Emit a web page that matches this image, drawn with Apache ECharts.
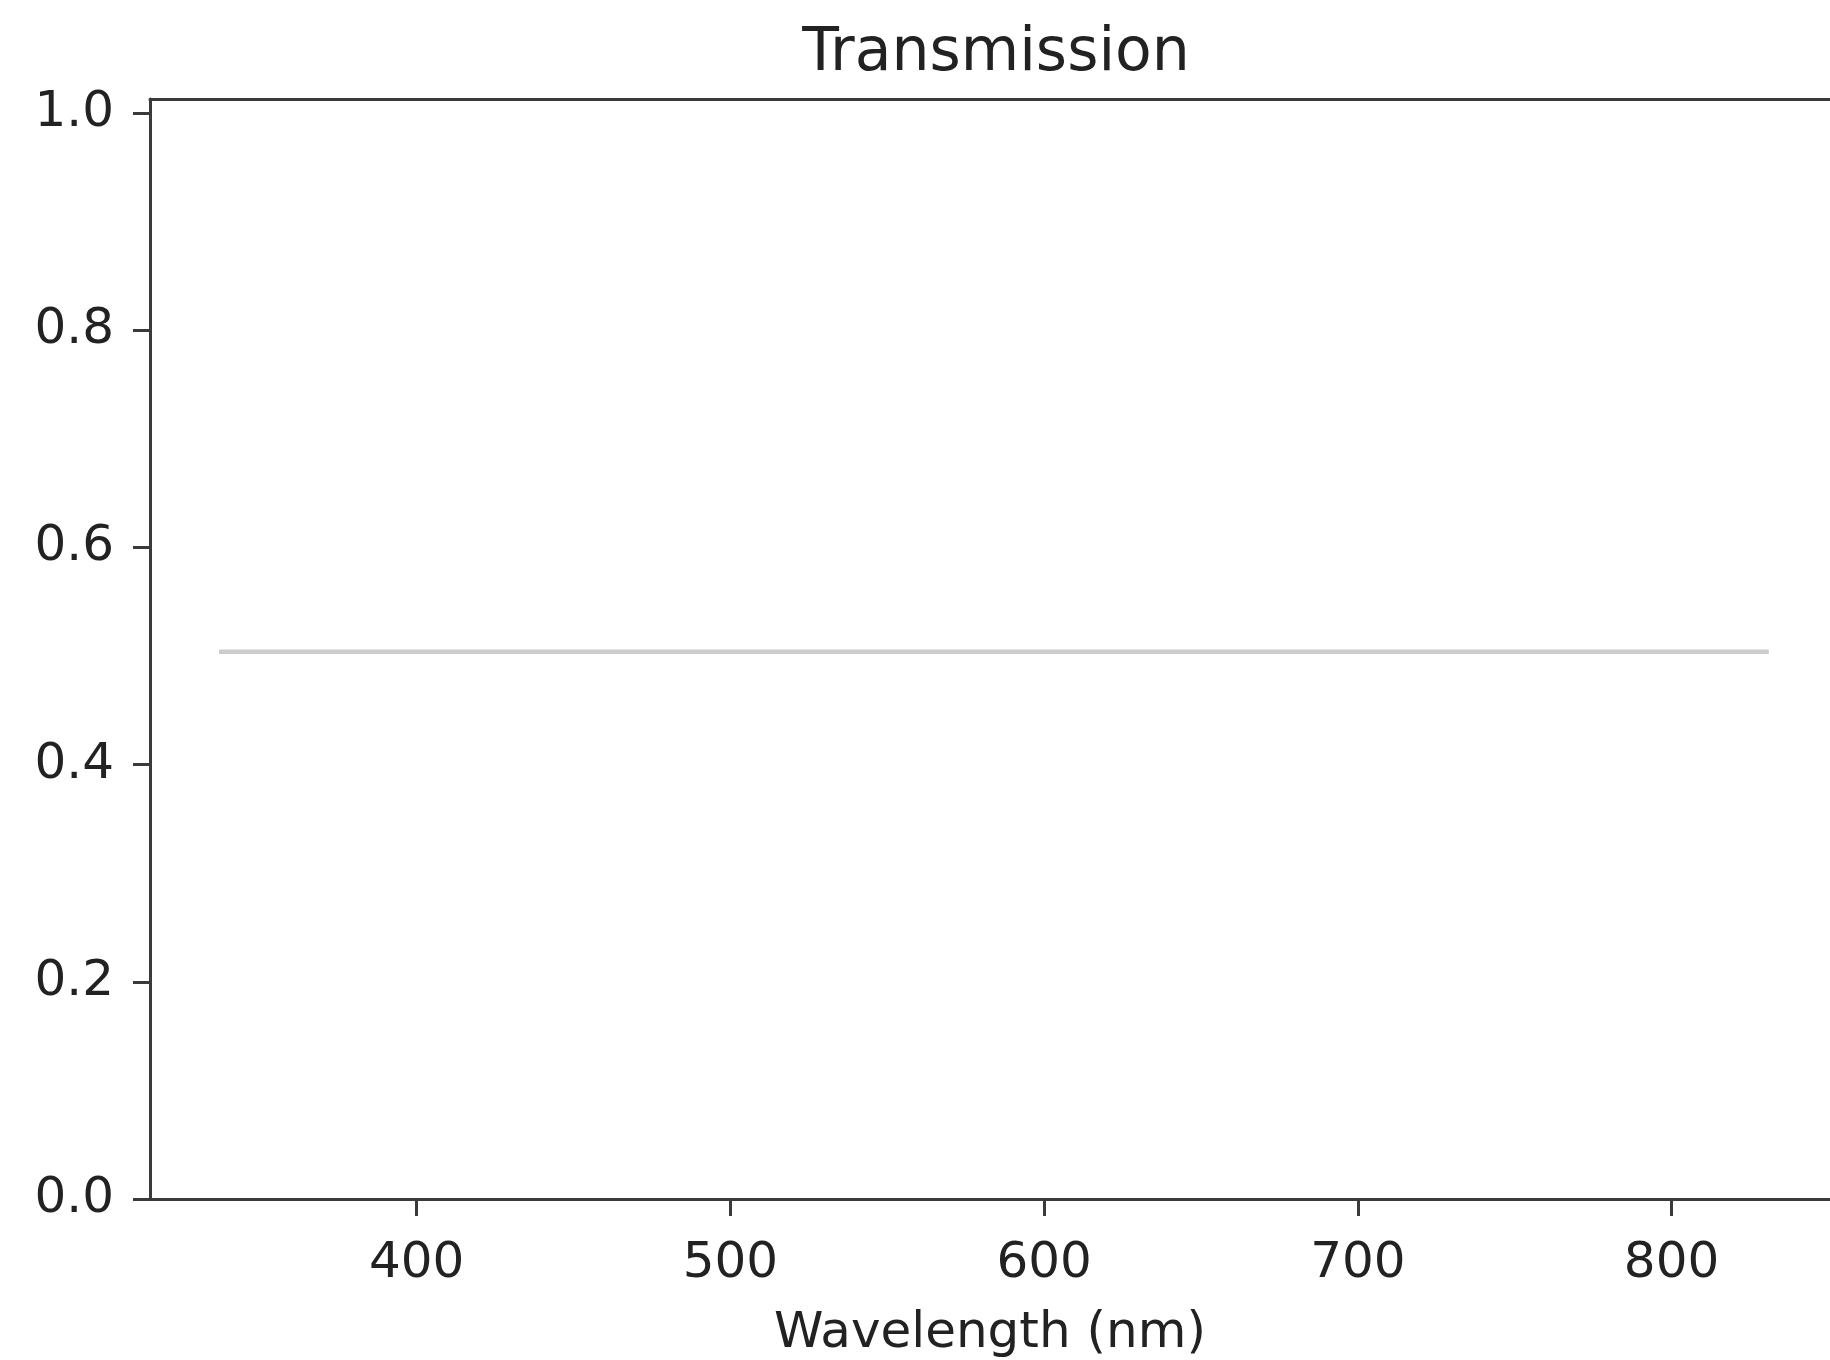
<!DOCTYPE html>
<html>
<head>
<meta charset="utf-8">
<script src="https://cdn.jsdelivr.net/npm/echarts@6/dist/echarts.min.js"></script>
<style>
html,body{margin:0;padding:0;background:#fff;}
#chart{width:1830px;height:1360px;}
</style>
</head>
<body>
<div id="chart"></div>
<script>
// Data
var wavelengths = [337, 831];
var transmission = [0.504, 0.504];
var xTicks = [400, 500, 600, 700, 800];
var yTicks = [0.0, 0.2, 0.4, 0.6, 0.8, 1.0];
var titleText = 'Transmission';
var xName = 'Wavelength (nm)';

var seriesData = wavelengths.map(function (w, i) { return [w, transmission[i]]; });

var chart = echarts.init(document.getElementById('chart'), null, {renderer: 'canvas'});
var axisColor = '#3a3a3a';
var font = 'DejaVu Sans';
chart.setOption({
  animation: false,
  backgroundColor: '#ffffff',
  title: {
    text: titleText,
    left: 991,
    top: 19,
    textAlign: 'center',
    textStyle: {fontFamily: font, fontSize: 60, fontWeight: 'normal', color: '#222'}
  },
  grid: {
    left: 150, top: 99, bottom: 161, right: 0,
    show: false, outerBoundsMode: 'none', containLabel: false
  },
  xAxis: [{
    type: 'value', min: 315, max: 850.5,
    name: xName, nameLocation: 'middle', nameGap: 110,
    nameTextStyle: {fontFamily: font, fontSize: 50, color: '#222'},
    splitLine: {show: false},
    axisLine: {show: true, lineStyle: {color: axisColor, width: 3}},
    axisTick: {show: true, length: 17, customValues: xTicks, lineStyle: {color: axisColor, width: 3}},
    axisLabel: {customValues: xTicks, margin: 40, fontFamily: font, fontSize: 50, color: '#222'}
  }, {
    type: 'value', position: 'top', min: 315, max: 850.5,
    splitLine: {show: false},
    axisLine: {show: true, onZero: false, lineStyle: {color: axisColor, width: 3}},
    axisTick: {show: false},
    axisLabel: {show: false}
  }],
  yAxis: {
    type: 'value', min: 0, max: 1.013,
    splitLine: {show: false},
    axisLine: {show: true, lineStyle: {color: axisColor, width: 3}},
    axisTick: {show: true, length: 17, customValues: yTicks, lineStyle: {color: axisColor, width: 3}},
    axisLabel: {customValues: yTicks, margin: 36, fontFamily: font, fontSize: 50, color: '#222',
      formatter: function (v) { return v.toFixed(1); }}
  },
  series: [{
    type: 'line',
    xAxisIndex: 0,
    data: seriesData,
    showSymbol: false,
    lineStyle: {color: '#cccccc', width: 4.5}
  }]
});
</script>
</body>
</html>
